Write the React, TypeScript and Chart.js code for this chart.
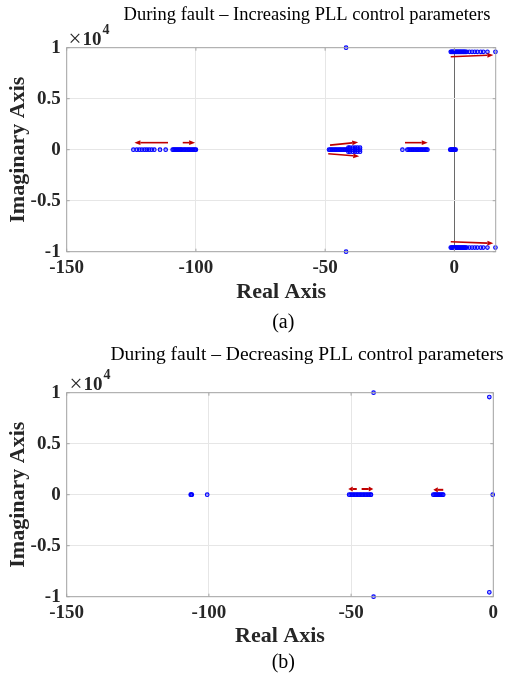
import React, { useEffect, useRef } from "react";
import { Chart, registerables } from "chart.js";

Chart.register(...registerables);

// ---------- Shared axis ticks ----------
const X_TICKS = [-150, -100, -50, 0];
const Y_TICKS = [-10000, -5000, 0, 5000, 10000];
const Y_TICK_LABELS = ["-1", "-0.5", "0", "0.5", "1"];

// ---------- (a) During fault – Increasing PLL control parameters ----------
const A_TITLE = "During fault \u2013 Increasing PLL control parameters";
const A_REAL_POLES = [
  -124.2, -122.9, -121.9, -120.9, -119.9, -119.0, -118.1, -117.1, -116.1, -113.9, -111.7,
  -109.0, -108.6, -108.2, -107.8, -107.4, -107.0, -106.6, -106.2, -105.8, -105.5,
  -104.9, -104.4, -103.9, -103.4, -102.9, -102.4, -101.9, -101.4, -100.9, -100.4, -100.0,
  -48.5, -48.0, -47.5, -47.0, -46.5, -46.0, -45.5, -45.0, -44.5, -44.0, -43.5, -43.0, -42.5,
  -42.0, -41.5, -41.0, -40.4, -39.3, -38.4, -37.5, -36.5,
  -20.1, -18.2, -17.7, -17.2, -16.7, -16.2, -15.7, -15.2, -14.7, -14.2, -13.7, -13.2, -12.7,
  -12.2, -11.7, -11.2, -10.8, -10.4,
  -1.6, -1.3, -1.0, -0.7, -0.4, -0.1, 0.2, 0.5,
];
const A_PAIR_RE = [-41.0, -40.4, -39.3, -38.4, -37.5, -36.5];
const A_PAIR_IM = [200, 200, 200, 200, 200, 200];
const A_HIGH_RE = [
  -1.4, -1.1, -0.8, -0.5, -0.2, 0.1, 0.4, 0.7, 1.0, 1.3, 1.6, 1.9, 2.2, 2.5, 2.8, 3.1, 3.4,
  3.7, 4.0, 4.3, 4.8, 5.8, 6.85, 7.9, 8.9, 10.2, 11.2, 12.8, 15.9,
];
const A_HIGH_IM = [
  9600, 9600, 9600, 9600, 9600, 9600, 9600, 9600, 9600, 9600, 9600, 9600, 9600, 9600, 9600,
  9600, 9600, 9600, 9600, 9600, 9600, 9600, 9600, 9600, 9600, 9600, 9600, 9600, 9600,
];
const A_LONE_RE = [-41.9];
const A_LONE_IM = [10000];
const A_ARROW_X0 = [-110.8, -105.1, -48.1, -48.8, -19.1, -1.4, -1.4];
const A_ARROW_Y0 = [690, 690, 450, -390, 690, 9120, -9020];
const A_ARROW_X1 = [-123.8, -100.3, -37.2, -36.8, -10.3, 15.1, 15.1];
const A_ARROW_Y1 = [690, 690, 730, -650, 690, 9280, -9180];

// ---------- (b) During fault – Decreasing PLL control parameters ----------
const B_TITLE = "During fault \u2013 Decreasing PLL control parameters";
const B_REAL_POLES = [
  -106.4, -106.2, -106.0, -100.6,
  -50.7, -50.2, -49.7, -49.2, -48.7, -48.2, -47.7, -47.2, -46.7, -46.2, -45.7, -45.2, -44.7,
  -44.2, -43.7, -43.2, -43.0,
  -21.1, -20.7, -20.3, -19.9, -19.5, -19.1, -18.7, -18.3, -17.9, -17.6,
  -0.2,
];
const B_PAIR_RE: number[] = [];
const B_PAIR_IM: number[] = [];
const B_HIGH_RE = [-1.4];
const B_HIGH_IM = [9570];
const B_LONE_RE = [-42.1];
const B_LONE_IM = [10000];
const B_ARROW_X0 = [-48.0, -46.3, -17.6];
const B_ARROW_Y0 = [560, 560, 480];
const B_ARROW_X1 = [-51.0, -42.2, -21.1];
const B_ARROW_Y1 = [560, 560, 480];

const SERIF = "'Liberation Serif', 'Times New Roman', serif";
const TEXT_COLOR = "#262626";
const GRID_COLOR = "#e6e6e6";
const BOX_COLOR = "#a6a6a6";
const DOT_COLOR = "#0000ff";
const ARROW_COLOR = "#c00000";

function buildPoints(
  realPoles: number[],
  pairRe: number[],
  pairIm: number[],
  highRe: number[],
  highIm: number[],
  loneRe: number[],
  loneIm: number[]
) {
  const pts: { x: number; y: number }[] = [];
  realPoles.forEach((x) => pts.push({ x, y: 0 }));
  pairRe.forEach((x, i) => {
    pts.push({ x, y: pairIm[i] });
    pts.push({ x, y: -pairIm[i] });
  });
  highRe.forEach((x, i) => {
    pts.push({ x, y: highIm[i] });
    pts.push({ x, y: -highIm[i] });
  });
  loneRe.forEach((x, i) => {
    pts.push({ x, y: loneIm[i] });
    pts.push({ x, y: -loneIm[i] });
  });
  return pts;
}

type Spec = {
  title: string;
  titleSize: number;
  titleBaseline: number;
  expX: number;
  expBaseline: number;
  label: string;
  labelBaseline: number;
  xMax: number;
  padTop: number;
  padRight: number;
  padBottom: number;
  xAxisHeight: number;
  zeroLine: boolean;
  points: { x: number; y: number }[];
  arrows: { x0: number[]; y0: number[]; x1: number[]; y1: number[] };
  arrowWidth: number;
  headLen: number;
  headHalf: number;
};

function drawArrow(
  ctx: CanvasRenderingContext2D,
  x0: number,
  y0: number,
  x1: number,
  y1: number,
  lw: number,
  headLen: number,
  headHalf: number
) {
  const ang = Math.atan2(y1 - y0, x1 - x0);
  const bx = x1 - headLen * Math.cos(ang);
  const by = y1 - headLen * Math.sin(ang);
  ctx.strokeStyle = ARROW_COLOR;
  ctx.fillStyle = ARROW_COLOR;
  ctx.lineWidth = lw;
  ctx.beginPath();
  ctx.moveTo(x0, y0);
  ctx.lineTo(bx, by);
  ctx.stroke();
  ctx.beginPath();
  ctx.moveTo(x1, y1);
  ctx.lineTo(bx - headHalf * Math.sin(ang), by + headHalf * Math.cos(ang));
  ctx.lineTo(bx + headHalf * Math.sin(ang), by - headHalf * Math.cos(ang));
  ctx.closePath();
  ctx.fill();
}

function makeConfig(spec: Spec): any {
  const overlay = {
    id: "overlay",
    afterDatasetsDraw(chart: any) {
      const ctx = chart.ctx as CanvasRenderingContext2D;
      const xs = chart.scales.x;
      const ys = chart.scales.y;
      ctx.save();
      const a = spec.arrows;
      for (let i = 0; i < a.x0.length; i++) {
        drawArrow(
          ctx,
          xs.getPixelForValue(a.x0[i]),
          ys.getPixelForValue(a.y0[i]),
          xs.getPixelForValue(a.x1[i]),
          ys.getPixelForValue(a.y1[i]),
          spec.arrowWidth,
          spec.headLen,
          spec.headHalf
        );
      }
      ctx.restore();
    },
    afterDraw(chart: any) {
      const ctx = chart.ctx as CanvasRenderingContext2D;
      const { left, right, top, bottom } = chart.chartArea;
      const xs = chart.scales.x;
      const ys = chart.scales.y;
      ctx.save();
      // box
      ctx.strokeStyle = BOX_COLOR;
      ctx.lineWidth = 1;
      ctx.strokeRect(left, top, right - left, bottom - top);
      // inward tick marks
      ctx.beginPath();
      xs.ticks.forEach((t: any) => {
        const px = xs.getPixelForValue(t.value);
        ctx.moveTo(px, bottom);
        ctx.lineTo(px, bottom - 3);
        ctx.moveTo(px, top);
        ctx.lineTo(px, top + 3);
      });
      ys.ticks.forEach((t: any) => {
        const py = ys.getPixelForValue(t.value);
        ctx.moveTo(left, py);
        ctx.lineTo(left + 3, py);
        ctx.moveTo(right, py);
        ctx.lineTo(right - 3, py);
      });
      ctx.stroke();
      // title
      ctx.fillStyle = "#000";
      ctx.textAlign = "center";
      ctx.textBaseline = "alphabetic";
      ctx.font = `${spec.titleSize}px ${SERIF}`;
      ctx.fillText(spec.title, 307, spec.titleBaseline);
      // exponent label  ×10^4
      ctx.fillStyle = TEXT_COLOR;
      ctx.textAlign = "left";
      ctx.font = `23px ${SERIF}`;
      ctx.fillText("\u00d7", spec.expX - 0.5, spec.expBaseline + 1);
      ctx.font = `bold 19px ${SERIF}`;
      ctx.fillText("10", spec.expX + 13.5, spec.expBaseline);
      ctx.font = `bold 14px ${SERIF}`;
      ctx.fillText("4", spec.expX + 33.5, spec.expBaseline - 11);
      // sub-figure label
      ctx.fillStyle = "#000";
      ctx.textAlign = "center";
      ctx.font = `20px ${SERIF}`;
      ctx.fillText(spec.label, 283.3, spec.labelBaseline);
      ctx.restore();
    },
  };

  const tickFont = { family: SERIF, size: 19, weight: "bold" as const };
  const titleFont = { family: SERIF, size: 22, weight: "bold" as const };

  return {
    type: "scatter",
    data: {
      datasets: [
        {
          data: spec.points,
          pointRadius: 1.8,
          pointHoverRadius: 1.8,
          pointBorderWidth: 1.1,
          borderColor: DOT_COLOR,
          backgroundColor: "rgba(0,0,255,0.3)",
          showLine: false,
          clip: false,
        },
      ],
    },
    options: {
      animation: false,
      responsive: false,
      devicePixelRatio: 1,
      events: [],
      layout: {
        padding: { top: spec.padTop, right: spec.padRight, bottom: spec.padBottom, left: 0 },
      },
      plugins: {
        legend: { display: false },
        tooltip: { enabled: false },
        title: { display: false },
      },
      scales: {
        x: {
          type: "linear",
          min: -150,
          max: spec.xMax,
          afterFit: (s: any) => {
            s.height = spec.xAxisHeight;
          },
          afterBuildTicks: (s: any) => {
            s.ticks = X_TICKS.map((v) => ({ value: v }));
          },
          ticks: {
            padding: 5.2,
            color: TEXT_COLOR,
            font: tickFont,
            maxRotation: 0,
            autoSkip: false,
            callback: (v: any) => String(v),
          },
          grid: {
            drawTicks: false,
            lineWidth: 1,
            color: (c: any) =>
              spec.zeroLine && c.tick && c.tick.value === 0 ? "#6a6a6a" : GRID_COLOR,
          },
          border: { display: false },
          title: {
            display: true,
            text: "Real Axis",
            color: TEXT_COLOR,
            font: titleFont,
            padding: { top: 0, bottom: 0 },
          },
        },
        y: {
          type: "linear",
          min: -10000,
          max: 10000,
          afterFit: (s: any) => {
            s.width = 66.7;
          },
          afterBuildTicks: (s: any) => {
            s.ticks = Y_TICKS.map((v) => ({ value: v }));
          },
          ticks: {
            padding: 6,
            color: TEXT_COLOR,
            font: tickFont,
            autoSkip: false,
            callback: (v: any) => {
              const i = Y_TICKS.indexOf(Number(v));
              return i >= 0 ? Y_TICK_LABELS[i] : "";
            },
          },
          grid: { drawTicks: false, lineWidth: 1, color: GRID_COLOR },
          border: { display: false },
          title: {
            display: true,
            text: "Imaginary Axis",
            color: TEXT_COLOR,
            font: titleFont,
            padding: { top: 5, bottom: 0 },
          },
        },
      },
    },
    plugins: [overlay],
  };
}

const SPEC_A: Spec = {
  title: A_TITLE,
  titleSize: 18.5,
  titleBaseline: 20,
  expX: 69,
  expBaseline: 44.5,
  label: "(a)",
  labelBaseline: 327.5,
  xMax: 16,
  padTop: 47.7,
  padRight: 10.3,
  padBottom: 34,
  xAxisHeight: 54.3,
  zeroLine: true,
  points: buildPoints(A_REAL_POLES, A_PAIR_RE, A_PAIR_IM, A_HIGH_RE, A_HIGH_IM, A_LONE_RE, A_LONE_IM),
  arrows: { x0: A_ARROW_X0, y0: A_ARROW_Y0, x1: A_ARROW_X1, y1: A_ARROW_Y1 },
  arrowWidth: 1.6,
  headLen: 6,
  headHalf: 2.4,
};

const SPEC_B: Spec = {
  title: B_TITLE,
  titleSize: 19.5,
  titleBaseline: 20,
  expX: 70,
  expBaseline: 50,
  label: "(b)",
  labelBaseline: 328.4,
  xMax: 0,
  padTop: 52.7,
  padRight: 12.7,
  padBottom: 27.1,
  xAxisHeight: 53.2,
  zeroLine: false,
  points: buildPoints(B_REAL_POLES, B_PAIR_RE, B_PAIR_IM, B_HIGH_RE, B_HIGH_IM, B_LONE_RE, B_LONE_IM),
  arrows: { x0: B_ARROW_X0, y0: B_ARROW_Y0, x1: B_ARROW_X1, y1: B_ARROW_Y1 },
  arrowWidth: 2,
  headLen: 4.5,
  headHalf: 2.6,
};

function RootLocus({ spec, top, height }: { spec: Spec; top: number; height: number }) {
  const ref = useRef<HTMLCanvasElement | null>(null);
  useEffect(() => {
    if (!ref.current) return;
    const chart = new Chart(ref.current, makeConfig(spec));
    return () => chart.destroy();
  }, [spec]);
  return (
    <canvas
      ref={ref}
      width={506}
      height={height}
      style={{ position: "absolute", left: 0, top, width: 506, height }}
    />
  );
}

export default function App() {
  return (
    <div
      style={{
        position: "absolute",
        left: 0,
        top: 0,
        width: 506,
        height: 677,
        background: "#ffffff",
        overflow: "hidden",
      }}
    >
      <RootLocus spec={SPEC_A} top={0} height={340} />
      <RootLocus spec={SPEC_B} top={340} height={337} />
    </div>
  );
}
